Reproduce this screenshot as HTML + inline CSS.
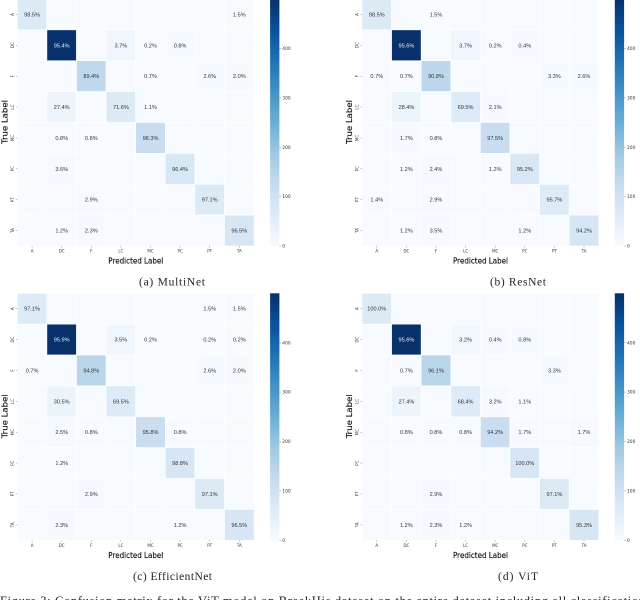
<!DOCTYPE html>
<html>
<head>
<meta charset="utf-8">
<title>Confusion matrices</title>
<style>
html,body{margin:0;padding:0;background:#fff;width:640px;height:600px;overflow:hidden}
svg{display:block;filter:blur(0.3px)}
.sans{font-family:"Liberation Sans",sans-serif}
.dj{font-family:"DejaVu Sans",sans-serif}
.serif{font-family:"Liberation Serif",serif}
</style>
</head>
<body>
<svg id="chart" width="640" height="600" viewBox="0 0 640 600" xmlns="http://www.w3.org/2000/svg">
<defs>
<linearGradient id="blues" x1="0" y1="1" x2="0" y2="0">
<stop offset="0" stop-color="#f7fbff"/><stop offset="0.125" stop-color="#deebf7"/><stop offset="0.25" stop-color="#c6dbef"/><stop offset="0.375" stop-color="#9ecae1"/><stop offset="0.5" stop-color="#6baed6"/><stop offset="0.625" stop-color="#4292c6"/><stop offset="0.75" stop-color="#2171b5"/><stop offset="0.875" stop-color="#08519c"/><stop offset="1" stop-color="#08306b"/>
</linearGradient>
</defs>
<text class="serif" x="0" y="605" font-size="12.5" fill="#222" textLength="645">Figure 3: Confusion matrix for the ViT model on BreakHis dataset on the entire dataset including all classification</text>
</svg>
<script>
const categories = ["A", "DC", "F", "LC", "MC", "PC", "PT", "TA"];
const classSupport = [68, 522, 152, 95, 120, 83, 69, 86];
const colorbarTicks = [0, 100, 200, 300, 400];
const colorMax = 500;

const multinetValues = [
  [98.5, 0, 0, 0, 0, 0, 0, 1.5],
  [0, 95.4, 0, 3.7, 0.2, 0.8, 0, 0],
  [0, 0, 89.4, 0, 0.7, 0, 2.6, 2.0],
  [0, 27.4, 0, 71.6, 1.1, 0, 0, 0],
  [0, 0.8, 0.8, 0, 98.3, 0, 0, 0],
  [0, 3.6, 0, 0, 0, 96.4, 0, 0],
  [0, 0, 2.9, 0, 0, 0, 97.1, 0],
  [0, 1.2, 2.3, 0, 0, 0, 0, 96.5]
];
const resnetValues = [
  [98.5, 0, 1.5, 0, 0, 0, 0, 0],
  [0, 95.6, 0, 3.7, 0.2, 0.4, 0, 0],
  [0.7, 0.7, 90.8, 0, 0, 0, 3.3, 2.6],
  [0, 28.4, 0, 69.5, 2.1, 0, 0, 0],
  [0, 1.7, 0.8, 0, 97.5, 0, 0, 0],
  [0, 1.2, 2.4, 0, 1.2, 95.2, 0, 0],
  [1.4, 0, 2.9, 0, 0, 0, 95.7, 0],
  [0, 1.2, 3.5, 0, 0, 1.2, 0, 94.2]
];
const efficientnetValues = [
  [97.1, 0, 0, 0, 0, 0, 1.5, 1.5],
  [0, 95.9, 0, 3.5, 0.2, 0, 0.2, 0.2],
  [0.7, 0, 94.8, 0, 0, 0, 2.6, 2.0],
  [0, 30.5, 0, 69.5, 0, 0, 0, 0],
  [0, 2.5, 0.8, 0, 95.8, 0.8, 0, 0],
  [0, 1.2, 0, 0, 0, 98.8, 0, 0],
  [0, 0, 2.9, 0, 0, 0, 97.1, 0],
  [0, 2.3, 0, 0, 0, 1.2, 0, 96.5]
];
const vitValues = [
  [100.0, 0, 0, 0, 0, 0, 0, 0],
  [0, 95.6, 0, 3.2, 0.4, 0.8, 0, 0],
  [0, 0.7, 96.1, 0, 0, 0, 3.3, 0],
  [0, 27.4, 0, 68.4, 3.2, 1.1, 0, 0],
  [0, 0.8, 0.8, 0.8, 94.2, 1.7, 0, 1.7],
  [0, 0, 0, 0, 0, 100.0, 0, 0],
  [0, 0, 2.9, 0, 0, 0, 97.1, 0],
  [0, 1.2, 2.3, 1.2, 0, 0, 0, 95.3]
];

const NS = "http://www.w3.org/2000/svg";
const svg = document.getElementById("chart");
const PLOT_W = 236.8, PLOT_H = 247;
const blues = [[247,251,255],[222,235,247],[198,219,239],[158,202,225],[107,174,214],[66,146,198],[33,113,181],[8,81,156],[8,48,107]];

function colorFor(v) {
  const t = Math.max(0, Math.min(1, v / colorMax)) * (blues.length - 1);
  const i = Math.min(blues.length - 2, Math.floor(t));
  const f = t - i;
  const c = blues[i].map((a, k) => Math.round(a + (blues[i + 1][k] - a) * f));
  return "rgb(" + c.join(",") + ")";
}
function make(tag, parent, attrs, text) {
  const el = document.createElementNS(NS, tag);
  for (const k in attrs) el.setAttribute(k, attrs[k]);
  if (text !== undefined) el.textContent = text;
  parent.appendChild(el);
  return el;
}

function drawPanel(key, values, ox, oy, caption, capX, capLen) {
  const n = categories.length;
  const xAxis = i => ox + i * PLOT_W / n;
  const yAxis = i => oy + i * PLOT_H / n;
  const barY = v => oy + PLOT_H - v / colorMax * PLOT_H;
  const g = make("g", svg, {});
  
  

  values.forEach((row, r) => {
    row.forEach((pct, c) => {
      const count = pct * classSupport[r] / 100;
      const rect = make("rect", g, {x: xAxis(c), y: yAxis(r), width: PLOT_W / n, height: PLOT_H / n, fill: colorFor(count), stroke: "#fff", "stroke-width": 0.6});
      
      
      if (pct > 0) {
        const label = make("text", g, {class: "sans", x: xAxis(c + 0.5), y: yAxis(r + 0.5) + 2, "font-size": 5.6, "text-anchor": "middle", fill: count > 250 ? "#e8f0f8" : "#333"}, pct.toFixed(1) + "%");
        
        
      }
    });
  });

  categories.forEach((name, i) => {
    const xTick = make("line", g, {x1: xAxis(i + 0.5), x2: xAxis(i + 0.5), y1: oy + PLOT_H, y2: oy + PLOT_H + 1.5, stroke: "#666", "stroke-width": 0.4});
    
    
    const xLabel = make("text", g, {class: "dj", x: xAxis(i + 0.5), y: oy + PLOT_H + 6.5, "font-size": 4, "text-anchor": "middle", fill: "#333"}, name);
    
    
    const yTick = make("line", g, {x1: ox - 1.5, x2: ox, y1: yAxis(i + 0.5), y2: yAxis(i + 0.5), stroke: "#666", "stroke-width": 0.4});
    
    
    const ly = yAxis(i + 0.5), lx = ox - 3.5;
    const yLabel = make("text", g, {class: "dj", x: lx, y: ly, "font-size": 4, "text-anchor": "middle", fill: "#333", transform: "rotate(-90 " + lx + " " + ly + ")"}, name);
    
    
  });

  const xTitle = make("text", g, {class: "dj", x: ox + 118.5, y: oy + PLOT_H + 17.5, "font-size": 7.6, "text-anchor": "middle", fill: "#111", stroke: "#111", "stroke-width": 0.15, textLength: 55, lengthAdjust: "spacingAndGlyphs"}, "Predicted Label");
  
  
  const tx = ox - 10, ty = oy + 123;
  const yTitle = make("text", g, {class: "dj", x: tx, y: ty, "font-size": 8, "text-anchor": "middle", fill: "#111", stroke: "#111", "stroke-width": 0.15, textLength: 44, lengthAdjust: "spacingAndGlyphs", transform: "rotate(-90 " + tx + " " + ty + ")"}, "True Label");
  
  

  const bar = make("rect", g, {x: ox + 252.8, y: oy, width: 9.3, height: PLOT_H, fill: "url(#blues)"});
  
  
  colorbarTicks.forEach(v => {
    const tick = make("line", g, {x1: ox + 262.1, x2: ox + 263.8, y1: barY(v), y2: barY(v), stroke: "#666", "stroke-width": 0.4});
    
    
    const label = make("text", g, {class: "dj", x: ox + 265, y: barY(v) + 1.6, "font-size": 4.4, fill: "#333"}, String(v));
    
    
  });

  const cap = make("text", g, {class: "serif", x: capX, y: oy + PLOT_H + 39.5, "font-size": 11.5, fill: "#222", textLength: capLen}, caption);
  
  
}

drawPanel("multinet", multinetValues, 17.3, -1, "(a) MultiNet", 139, 66);
drawPanel("resnet", resnetValues, 362, -1, "(b) ResNet", 490, 56);
drawPanel("efficientnet", efficientnetValues, 17.3, 293.3, "(c) EfficientNet", 133, 79);
drawPanel("vit", vitValues, 362, 293.3, "(d) ViT", 498, 40);
</script>
</body>
</html>
